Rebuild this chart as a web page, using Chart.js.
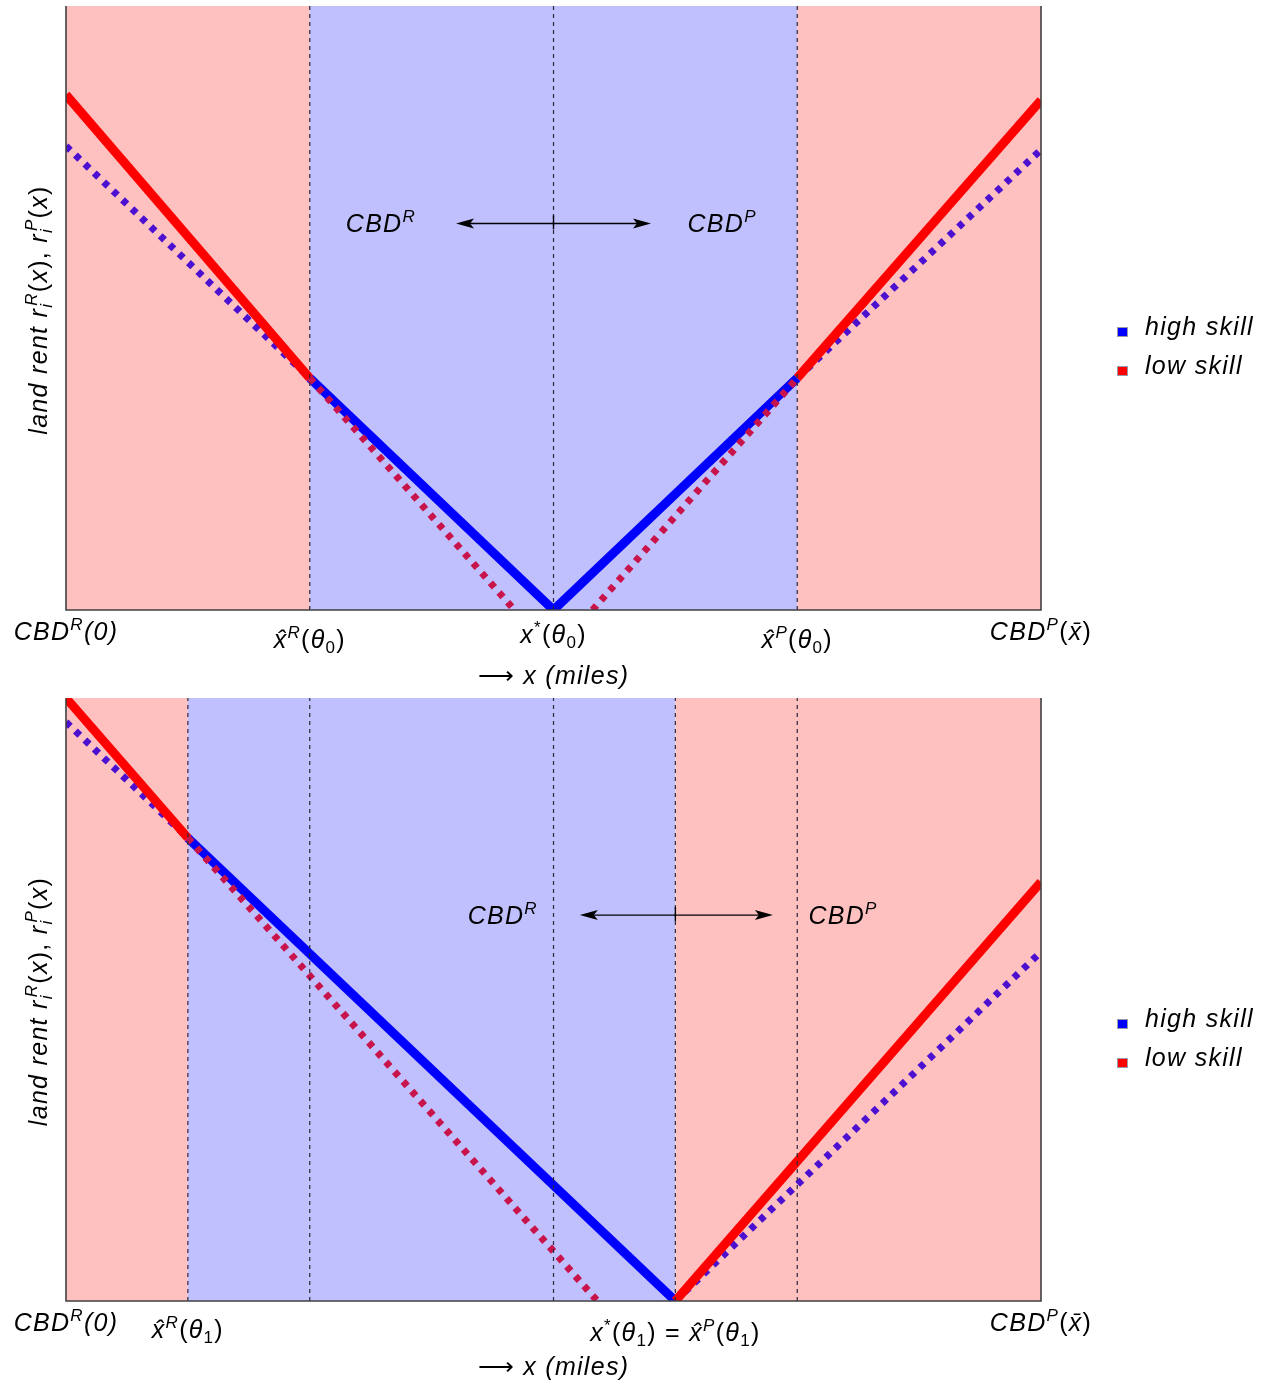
<!DOCTYPE html>
<html><head><meta charset="utf-8">
<script src="https://cdn.jsdelivr.net/npm/chart.js@4/dist/chart.umd.min.js"></script>
<style>
html,body{margin:0;padding:0;background:#fff;}
#wrap{position:relative;width:1262px;height:1384px;overflow:hidden;}
canvas{position:absolute;left:0;}
</style></head><body>
<div id="wrap">
<canvas id="c1" width="1262" height="692" style="top:0"></canvas>
<canvas id="c2" width="1262" height="692" style="top:692px"></canvas>
</div>
<script>
// ---------------- DATA ----------------
// Top panel (theta_0)
const topHighX = [0, 0.25, 0.5, 0.75, 1];
const topHighY = [0.768, 0.384, 0, 0.384, 0.762];
const topLowX  = [0, 0.25, 0.46, 0.54, 0.75, 1];
const topLowY  = [0.853, 0.384, 0, 0, 0.384, 0.844];
const topHighZone = [0.25, 0.75];
const topDividers = [0.25, 0.5, 0.75];
const topTickVals = [0, 0.25, 0.5, 0.75, 1];
const topArrowX = [0.4, 0.6];
const topArrowMid = 0.5;
const topArrowY = 0.64;
const topCbdX = [0.323, 0.673];

// Bottom panel (theta_1)
const botHighX = [0, 0.125, 0.625, 1];
const botHighY = [0.96, 0.768, 0, 0.579];
const botLowX  = [0, 0.125, 0.545, 0.625, 1];
const botLowY  = [1.0, 0.768, 0, 0, 0.695];
const botHighZone = [0.125, 0.625];
const botDividers = [0.125, 0.25, 0.5, 0.625, 0.75];
const botTickVals = [0, 0.125, 0.625, 1];
const botArrowX = [0.527, 0.725];
const botArrowMid = 0.625;
const botArrowY = 0.64;
const botCbdX = [0.448, 0.797];

// ---------------- TEXT ----------------
const I = t => ({t, i:true});
const N = t => ({t});
const SUP = (t, i=true) => ({t, i, s:'sup'});
const SUB = (t, i=false) => ({t, i, s:'sub'});
const SS = (sup, sub) => ({sup, sub, s:'ss'});

const lblCbdR = [I('CBD'), SUP('R'), I('(0)')];
const lblCbdP = [I('CBD'), SUP('P'), N('('), I('x\u0304'), N(')')];
const topTickLabels = [
  lblCbdR,
  [I('x\u0302'), SUP('R'), N('('), I('\u03b8'), SUB('0'), N(')')],
  [I('x'), SUP('*', false), N('('), I('\u03b8'), SUB('0'), N(')')],
  [I('x\u0302'), SUP('P'), N('('), I('\u03b8'), SUB('0'), N(')')],
  lblCbdP
];
const topTickDy = [30, 38, 33, 38, 30];
const botTickLabels = [
  lblCbdR,
  [I('x\u0302'), SUP('R'), N('('), I('\u03b8'), SUB('1'), N(')')],
  [I('x'), SUP('*', false), N('('), I('\u03b8'), SUB('1'), N(') = '), I('x\u0302'), SUP('P'), N('('), I('\u03b8'), SUB('1'), N(')')],
  lblCbdP
];
const botTickDy = [30, 37, 40, 30];
const xTitle = [N('\u27f6 '), I('x (miles)')];
const yTitle = [I('land rent '), I('r'), SS('R','i'), N('('), I('x'), N('), '), I('r'), SS('P','i'), N('('), I('x'), N(')')];
const cbdR = [I('CBD'), SUP('R')];
const cbdP = [I('CBD'), SUP('P')];
const legendNames = ['high skill', 'low skill'];
const legendColors = ['#0000ff', '#ff0000'];

// ---------------- STYLE ----------------
const FONT = '"Liberation Sans", Arial, Helvetica, sans-serif';
const BIG = 25, SMALL = 17, LS = '1.3px';
const PINK = '#ffc0c0', LILAC = '#c0c0ff';

function partFont(p){ return (p.i ? 'italic ' : '') + (p.s ? SMALL : BIG) + 'px ' + FONT; }
function partWidth(ctx, p){
  if (p.s === 'ss'){ ctx.font = 'italic ' + SMALL + 'px ' + FONT; return Math.max(ctx.measureText(p.sup).width, ctx.measureText(p.sub).width) + 2; }
  ctx.font = partFont(p); return ctx.measureText(p.t).width;
}
function drawRich(ctx, parts, x, y, align){
  ctx.save();
  ctx.letterSpacing = LS;
  ctx.textBaseline = 'alphabetic'; ctx.textAlign = 'left'; ctx.fillStyle = '#000';
  const widths = parts.map(p => partWidth(ctx, p));
  const total = widths.reduce((a, b) => a + b, 0);
  let cx = align === 'center' ? x - total / 2 : x;
  parts.forEach((p, k) => {
    if (p.s === 'ss'){
      ctx.font = 'italic ' + SMALL + 'px ' + FONT;
      ctx.fillText(p.sup, cx + 2, y - 10);
      ctx.fillText(p.sub, cx, y + 5);
    } else {
      ctx.font = partFont(p);
      const dy = p.s === 'sup' ? -10 : (p.s === 'sub' ? 5 : 0);
      ctx.fillText(p.t, cx, y + dy);
    }
    cx += widths[k];
  });
  ctx.restore();
}

// split a polyline into solid / dotted parts
function splitSeries(xs, ys, zone, solidInside){
  const solid = [], dotted = [];
  const add = (arr, a, b) => {
    const last = arr[arr.length - 1];
    if (last && last.x === a.x && last.y === a.y){ arr.push(b); return; }
    if (arr.length) arr.push({x: a.x, y: null});
    arr.push(a, b);
  };
  for (let k = 0; k < xs.length - 1; k++){
    const a = {x: xs[k], y: ys[k]}, b = {x: xs[k+1], y: ys[k+1]};
    if (a.y === 0 && b.y === 0) continue;
    const mid = (a.x + b.x) / 2;
    const inside = mid > zone[0] && mid < zone[1];
    add(inside === solidInside ? solid : dotted, a, b);
  }
  return {solid, dotted};
}

function buildChart(canvasId, d){
  const high = splitSeries(d.highX, d.highY, d.zone, true);
  const low = splitSeries(d.lowX, d.lowY, d.zone, false);
  const clip = {left:0, top:0, right:0, bottom:0};
  const datasets = [];
  d.dividers.forEach(v => datasets.push({
    data: [{x:v, y:0}, {x:v, y:1}], borderColor:'#2a2a3a', borderWidth:1.2, borderDash:[4,4],
    order:0, clip
  }));
  datasets.push({label:'low skill dotted', data: low.dotted, borderColor:'#c8144b', borderWidth:7, borderDash:[6,7], order:1, clip});
  datasets.push({label:'low skill', data: low.solid, borderColor:'#ff0000', borderWidth:9, order:1, clip});
  datasets.push({label:'high skill dotted', data: high.dotted, borderColor:'#4b10d0', borderWidth:7, borderDash:[6,7], order:2, clip});
  datasets.push({label:'high skill', data: high.solid, borderColor:'#0000ff', borderWidth:9, order:2, clip});

  const decor = {
    id: 'decor',
    beforeDatasetsDraw(chart){
      const {ctx, chartArea:a, scales:{x}} = chart;
      const bands = [[0, d.zone[0], PINK], [d.zone[0], d.zone[1], LILAC], [d.zone[1], 1, PINK]];
      ctx.save();
      bands.forEach(([x0, x1, c]) => {
        const p0 = x.getPixelForValue(x0), p1 = x.getPixelForValue(x1);
        ctx.fillStyle = c; ctx.fillRect(p0, a.top, p1 - p0, a.bottom - a.top);
      });
      ctx.restore();
    },
    afterDatasetsDraw(chart){
      const {ctx, chartArea:a, scales:{x, y}} = chart;
      ctx.save();
      // frame
      ctx.strokeStyle = '#404040'; ctx.lineWidth = 1.6;
      ctx.beginPath();
      ctx.moveTo(a.left, a.top); ctx.lineTo(a.left, a.bottom); ctx.lineTo(a.right, a.bottom); ctx.lineTo(a.right, a.top);
      ctx.stroke();
      // double arrow
      const ay = y.getPixelForValue(d.arrowY);
      const ax0 = x.getPixelForValue(d.arrowX[0]), ax1 = x.getPixelForValue(d.arrowX[1]);
      const am = x.getPixelForValue(d.arrowMid);
      ctx.strokeStyle = '#000'; ctx.fillStyle = '#000'; ctx.lineWidth = 1.4;
      ctx.beginPath(); ctx.moveTo(ax0 + 10, ay); ctx.lineTo(ax1 - 10, ay); ctx.stroke();
      ctx.beginPath(); ctx.moveTo(am, ay - 8); ctx.lineTo(am, ay + 6); ctx.stroke();
      ctx.beginPath(); ctx.moveTo(ax0, ay); ctx.lineTo(ax0 + 18, ay - 5); ctx.lineTo(ax0 + 14, ay); ctx.lineTo(ax0 + 18, ay + 5); ctx.closePath(); ctx.fill();
      ctx.beginPath(); ctx.moveTo(ax1, ay); ctx.lineTo(ax1 - 18, ay - 5); ctx.lineTo(ax1 - 14, ay); ctx.lineTo(ax1 - 18, ay + 5); ctx.closePath(); ctx.fill();
      ctx.restore();
      drawRich(ctx, cbdR, x.getPixelForValue(d.cbdX[0]), ay + 9, 'center');
      drawRich(ctx, cbdP, x.getPixelForValue(d.cbdX[1]), ay + 9, 'center');
    },
    afterDraw(chart){
      const {ctx, chartArea:a, scales:{x}} = chart;
      d.ticks.forEach((v, k) => drawRich(ctx, d.tickLabels[k], x.getPixelForValue(v), a.bottom + d.tickDy[k], 'center'));
      drawRich(ctx, xTitle, (a.left + a.right) / 2, a.bottom + 74, 'center');
      ctx.save();
      ctx.translate(47, (a.top + a.bottom) / 2 + 2);
      ctx.rotate(-Math.PI / 2);
      drawRich(ctx, yTitle, 0, 0, 'center');
      ctx.restore();
      // legend
      legendNames.forEach((name, k) => {
        const base = a.top + 329 + k * 39;
        ctx.save();
        ctx.fillStyle = legendColors[k]; ctx.fillRect(1117, base - 8, 11, 10);
        ctx.strokeStyle = '#9a9aaa'; ctx.lineWidth = 1; ctx.strokeRect(1117.5, base - 7.5, 10, 9);
        ctx.restore();
        drawRich(ctx, [I(name)], 1145, base, 'left');
      });
    }
  };

  return new Chart(document.getElementById(canvasId), {
    type: 'line',
    data: {datasets},
    options: {
      responsive: false, animation: false, events: [],
      layout: {padding: d.padding},
      parsing: true,
      spanGaps: false,
      plugins: {legend: {display: false}, tooltip: {enabled: false}},
      elements: {point: {radius: 0}, line: {tension: 0, borderCapStyle: 'butt'}},
      scales: {
        x: {type: 'linear', min: 0, max: 1, display: false},
        y: {type: 'linear', min: 0, max: 1, display: false}
      }
    },
    plugins: [decor]
  });
}

buildChart('c1', {
  highX: topHighX, highY: topHighY, lowX: topLowX, lowY: topLowY, zone: topHighZone,
  dividers: topDividers, ticks: topTickVals, tickLabels: topTickLabels, tickDy: topTickDy,
  arrowX: topArrowX, arrowMid: topArrowMid, arrowY: topArrowY, cbdX: topCbdX,
  padding: {left: 66, right: 221, top: 6, bottom: 82}
});
buildChart('c2', {
  highX: botHighX, highY: botHighY, lowX: botLowX, lowY: botLowY, zone: botHighZone,
  dividers: botDividers, ticks: botTickVals, tickLabels: botTickLabels, tickDy: botTickDy,
  arrowX: botArrowX, arrowMid: botArrowMid, arrowY: botArrowY, cbdX: botCbdX,
  padding: {left: 66, right: 221, top: 6, bottom: 83}
});
</script>
</body></html>
